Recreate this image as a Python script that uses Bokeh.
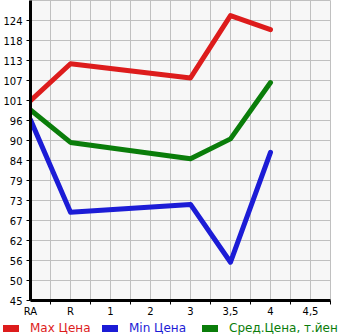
from bokeh.plotting import figure
from bokeh.models import Range1d, FixedTicker, Legend, LegendItem
from bokeh.embed import file_html
from bokeh.resources import INLINE

categories = ["RA", "R", "1", "2", "3", "3,5", "4", "4,5"]
point_cats = ["RA", "R", "3", "3,5", "4"]
max_price = [101.4, 111.8, 107.8, 125.4, 121.4]
min_price = [96.0, 69.9, 72.1, 55.8, 86.8]
avg_price = [98.8, 89.6, 85.0, 90.6, 106.5]
y_tick_labels = ["45", "50", "56", "62", "67", "73", "79", "84", "90", "96",
                 "101", "107", "113", "118", "124"]
series_names = ["Max Цена", "Min Цена", "Сред.Цена, т.йен"]
colors = ["#dd1c1c", "#1c1cd6", "#0a7d0a"]

y0 = 45.0
y_step = (124.0 - 45.0) / 14.0
y_ticks = [y0 + k * y_step for k in range(len(y_tick_labels))]
xs = [categories.index(c) for c in point_cats]
n = len(categories)

p = figure(frame_width=300, frame_height=300,
           output_backend="svg", toolbar_location=None,
           x_range=Range1d(0, n - 0.5), y_range=Range1d(y0, y0 + 15 * y_step),
           min_border_left=30, min_border_right=15, min_border_top=0, min_border_bottom=18)
p.background_fill_color = "#f7f7f7"
p.border_fill_color = "white"
p.outline_line_color = "#c0c0c0"

# grids
p.xgrid.ticker = FixedTicker(ticks=[i * 0.5 for i in range(2 * n)])
p.ygrid.ticker = FixedTicker(ticks=y_ticks)
for g in (p.xgrid, p.ygrid):
    g.grid_line_color = "#c0c0c0"
    g.grid_line_width = 1

# x axis
xa = p.xaxis[0]
xa.ticker = FixedTicker(ticks=list(range(n)), minor_ticks=[i + 0.5 for i in range(n)])
xa.major_label_overrides = {i: c for i, c in enumerate(categories)}
xa.major_tick_out = 0
xa.major_tick_in = 0
xa.minor_tick_out = 4
xa.minor_tick_in = 0
xa.minor_tick_line_color = "black"
xa.minor_tick_line_width = 1
xa.axis_line_color = "black"
xa.axis_line_width = 3
xa.major_label_standoff = 1
xa.major_label_text_font = "DejaVu Sans"
xa.major_label_text_font_size = "10px"
xa.major_label_text_color = "black"

# y axis
ya = p.yaxis[0]
ya.ticker = FixedTicker(ticks=y_ticks)
ya.major_label_overrides = {t: l for t, l in zip(y_ticks, y_tick_labels)}
ya.major_tick_out = 4
ya.major_tick_in = 0
ya.major_tick_line_color = "black"
ya.minor_tick_out = 0
ya.minor_tick_in = 0
ya.axis_line_color = "black"
ya.axis_line_width = 3
ya.major_label_standoff = 4
ya.major_label_text_font = "DejaVu Sans"
ya.major_label_text_font_size = "10px"
ya.major_label_text_color = "black"

for vals, col in zip([max_price, min_price, avg_price], colors):
    p.line(xs, vals, line_color=col, line_width=5, line_cap="round", line_join="round")

# legend strip
lf = figure(width=345, height=17, output_backend="svg", toolbar_location=None,
            x_range=Range1d(0, 345), y_range=Range1d(0, 17),
            x_axis_location=None, y_axis_location=None,
            min_border_left=0, min_border_right=0, min_border_top=0, min_border_bottom=0)
lf.grid.visible = False
lf.outline_line_color = None
lf.background_fill_color = "white"
lf.border_fill_color = "white"
legend_x = [3, 102, 202]
for name, col, lx in zip(series_names, colors, legend_x):
    r = lf.line([-100, -90], [5, 5], line_color=col, line_width=7, line_cap="round")
    lg = Legend(items=[LegendItem(label=name, renderers=[r])], location=(lx, 1),
                padding=0, margin=0, glyph_width=16, glyph_height=14, label_height=14,
                label_standoff=11, border_line_color=None, background_fill_alpha=0,
                label_text_font="DejaVu Sans", label_text_font_size="12px",
                label_text_color=col)
    lf.add_layout(lg, "center")

open("out.html", "w").write(file_html([p, lf], INLINE))
